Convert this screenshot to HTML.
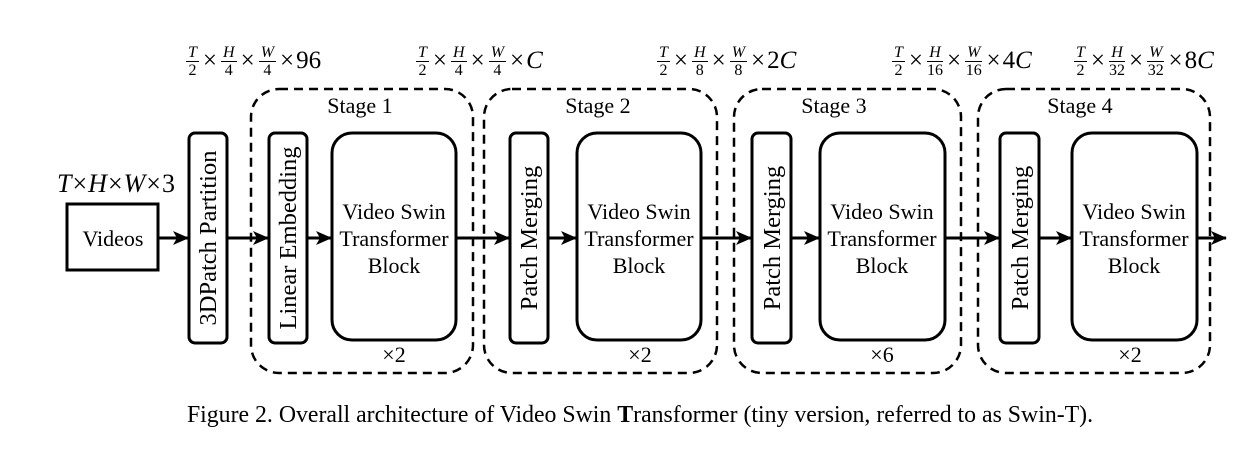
<!DOCTYPE html>
<html><head><meta charset="utf-8"><style>
body{margin:0;background:#fff;}
#c{position:relative;width:1250px;height:450px;overflow:hidden;font-family:"Liberation Serif",serif;color:#000;}
.lab{position:absolute;top:40px;height:42px;display:flex;align-items:center;font-size:25px;white-space:nowrap;}
.fr{display:inline-flex;flex-direction:column;align-items:center;font-size:16px;line-height:17px;margin:0 2px;}
.fr .n{border-bottom:1px solid #000;padding:0 2px;font-style:italic;}
.i{font-style:italic;}
.x{margin:0 2px;}
svg{position:absolute;left:0;top:0;}
</style></head><body><div id="c">
<svg width="1250" height="450" viewBox="0 0 1250 450">
<defs><marker id="a" markerWidth="16" markerHeight="14" refX="15" refY="7" orient="auto" markerUnits="userSpaceOnUse"><path d="M0,0 L16,7 L0,14 L4,7 Z" fill="#000"/></marker></defs>
<g fill="none" stroke="#000" stroke-width="2.5" stroke-dasharray="9,6">
<rect x="251" y="89" width="222" height="284" rx="28"/>
<rect x="484" y="89" width="233" height="284" rx="28"/>
<rect x="734" y="89" width="227" height="284" rx="28"/>
<rect x="978" y="89" width="232" height="284" rx="28"/>
</g>
<g fill="none" stroke="#000" stroke-width="3">
<rect x="67" y="204" width="91" height="66"/>
<rect x="189" y="133" width="38" height="210" rx="6"/>
<rect x="269" y="133" width="38" height="210" rx="6"/>
<rect x="332" y="133" width="124" height="207" rx="20"/>
<rect x="510" y="133" width="38" height="210" rx="6"/>
<rect x="577" y="133" width="124" height="207" rx="20"/>
<rect x="752" y="133" width="39" height="210" rx="6"/>
<rect x="820" y="133" width="125" height="207" rx="20"/>
<rect x="1000" y="133" width="39" height="210" rx="6"/>
<rect x="1072" y="133" width="125" height="207" rx="20"/>
</g>
<g stroke="#000" stroke-width="3" marker-end="url(#a)">
<line x1="158" y1="238" x2="188" y2="238"/>
<line x1="227" y1="238" x2="268" y2="238"/>
<line x1="307" y1="238" x2="331" y2="238"/>
<line x1="456" y1="238" x2="509" y2="238"/>
<line x1="548" y1="238" x2="576" y2="238"/>
<line x1="701" y1="238" x2="751" y2="238"/>
<line x1="791" y1="238" x2="819" y2="238"/>
<line x1="945" y1="238" x2="999" y2="238"/>
<line x1="1039" y1="238" x2="1071" y2="238"/>
<line x1="1197" y1="238" x2="1226" y2="238"/>
</g>
<g font-family="Liberation Serif, serif" font-size="22" text-anchor="middle">
<text x="113" y="246">Videos</text>
<g font-size="24.5">
<text transform="translate(216,238) rotate(-90)">3DPatch Partition</text>
<text transform="translate(296,238) rotate(-90)">Linear Embedding</text>
<text transform="translate(537,238) rotate(-90)">Patch Merging</text>
<text transform="translate(780,238) rotate(-90)">Patch Merging</text>
<text transform="translate(1028,238) rotate(-90)">Patch Merging</text>
</g>
<text x="394" y="219">Video Swin</text><text x="394" y="246">Transformer</text><text x="394" y="273">Block</text>
<text x="639" y="219">Video Swin</text><text x="639" y="246">Transformer</text><text x="639" y="273">Block</text>
<text x="882" y="219">Video Swin</text><text x="882" y="246">Transformer</text><text x="882" y="273">Block</text>
<text x="1134" y="219">Video Swin</text><text x="1134" y="246">Transformer</text><text x="1134" y="273">Block</text>
<text x="360" y="113">Stage 1</text>
<text x="598" y="113">Stage 2</text>
<text x="834" y="113">Stage 3</text>
<text x="1080" y="113">Stage 4</text>
<text x="394" y="362">×2</text>
<text x="640" y="362">×2</text>
<text x="882" y="362">×6</text>
<text x="1130" y="362">×2</text>
<text x="116" y="192" font-size="26"><tspan font-style="italic">T</tspan><tspan dx="1">×</tspan><tspan dx="1" font-style="italic">H</tspan><tspan dx="1">×</tspan><tspan dx="1" font-style="italic">W</tspan><tspan dx="1">×</tspan><tspan dx="1">3</tspan></text>
<text x="640" y="422" font-size="23.8">Figure 2. Overall architecture of Video Swin <tspan font-weight="bold">T</tspan>ransformer (tiny version, referred to as Swin-T).</text>
</g>
</svg>
<div class="lab" style="left:184px"><span class="fr"><span class="n">T</span><span>2</span></span><span class="x">×</span><span class="fr"><span class="n">H</span><span>4</span></span><span class="x">×</span><span class="fr"><span class="n">W</span><span>4</span></span><span class="x">×</span>96</div>
<div class="lab" style="left:414px"><span class="fr"><span class="n">T</span><span>2</span></span><span class="x">×</span><span class="fr"><span class="n">H</span><span>4</span></span><span class="x">×</span><span class="fr"><span class="n">W</span><span>4</span></span><span class="x">×</span><span class="i">C</span></div>
<div class="lab" style="left:655px"><span class="fr"><span class="n">T</span><span>2</span></span><span class="x">×</span><span class="fr"><span class="n">H</span><span>8</span></span><span class="x">×</span><span class="fr"><span class="n">W</span><span>8</span></span><span class="x">×</span>2<span class="i">C</span></div>
<div class="lab" style="left:890px"><span class="fr"><span class="n">T</span><span>2</span></span><span class="x">×</span><span class="fr"><span class="n">H</span><span>16</span></span><span class="x">×</span><span class="fr"><span class="n">W</span><span>16</span></span><span class="x">×</span>4<span class="i">C</span></div>
<div class="lab" style="left:1072px"><span class="fr"><span class="n">T</span><span>2</span></span><span class="x">×</span><span class="fr"><span class="n">H</span><span>32</span></span><span class="x">×</span><span class="fr"><span class="n">W</span><span>32</span></span><span class="x">×</span>8<span class="i">C</span></div>
</div></body></html>
